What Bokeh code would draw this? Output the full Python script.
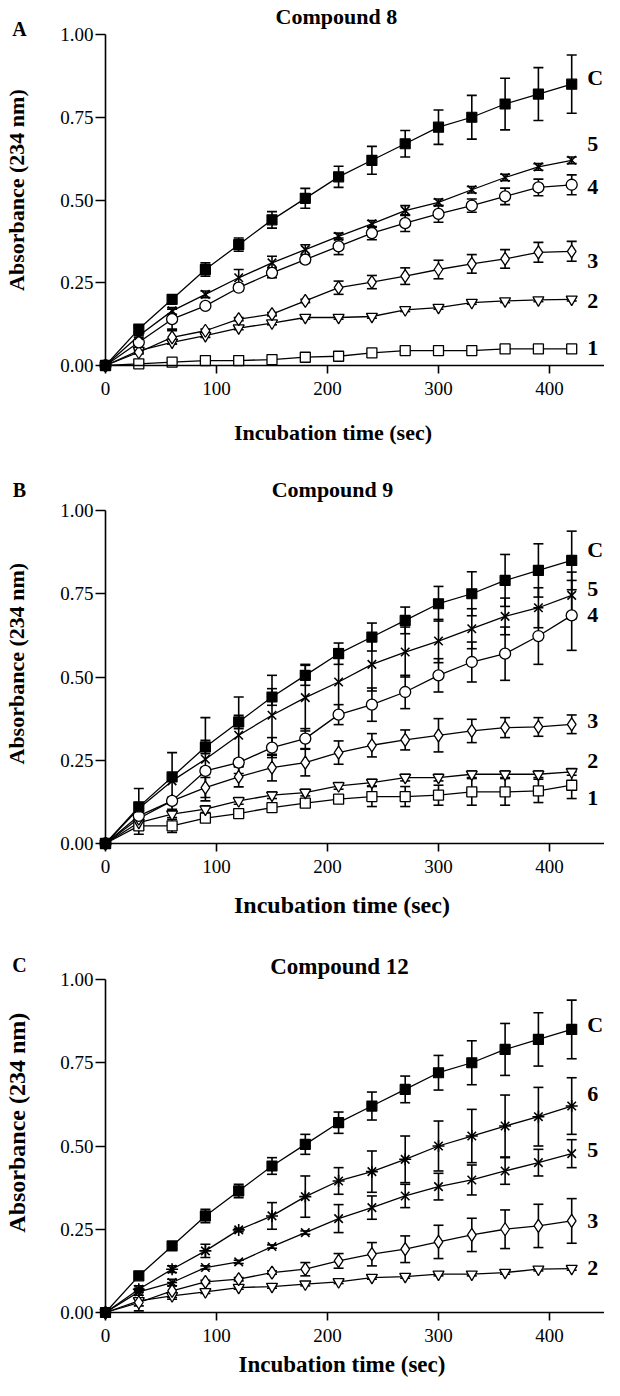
from bokeh.plotting import figure
from bokeh.layouts import column
from bokeh.models import Label, Whisker, TeeHead, ColumnDataSource, FixedTicker, Range1d
from bokeh.embed import file_html
from bokeh.resources import INLINE

# ---------------- data ----------------
t = [0, 30, 60, 90, 120, 150, 180, 210, 240, 270, 300, 330, 360, 390, 420]
x_ticks = [0, 100, 200, 300, 400]
y_ticks = [0.0, 0.25, 0.5, 0.75, 1.0]
y_tick_labels = ["0.00", "0.25", "0.50", "0.75", "1.00"]

ctrl = [0, 0.11, 0.20, 0.29, 0.365, 0.44, 0.505, 0.57, 0.62, 0.67, 0.72, 0.75, 0.79, 0.82, 0.85]
ctrl_err = [0, 0.008, 0.01, 0.02, 0.02, 0.025, 0.03, 0.032, 0.042, 0.04, 0.052, 0.066, 0.078, 0.08, 0.088]

# Compound 8
a5 = [0, 0.09, 0.165, 0.215, 0.265, 0.31, 0.35, 0.39, 0.428, 0.468, 0.493, 0.531, 0.568, 0.60, 0.62]
a5_err = [0, 0.005, 0.01, 0.01, 0.025, 0.02, 0.015, 0.01, 0.01, 0.015, 0.01, 0.01, 0.01, 0.01, 0.01]
a4 = [0, 0.07, 0.14, 0.18, 0.235, 0.28, 0.32, 0.36, 0.40, 0.43, 0.458, 0.483, 0.511, 0.538, 0.546]
a4_err = [0, 0.02, 0.03, 0.005, 0.01, 0.015, 0.01, 0.025, 0.02, 0.025, 0.025, 0.02, 0.025, 0.025, 0.03]
a3 = [0, 0.04, 0.085, 0.105, 0.14, 0.155, 0.195, 0.235, 0.252, 0.27, 0.29, 0.307, 0.322, 0.342, 0.345]
a3_err = [0, 0.005, 0.02, 0.005, 0.005, 0.005, 0.005, 0.02, 0.02, 0.025, 0.028, 0.028, 0.028, 0.03, 0.03]
a2 = [0, 0.045, 0.07, 0.09, 0.113, 0.128, 0.145, 0.145, 0.148, 0.168, 0.175, 0.19, 0.195, 0.198, 0.2]
a2_err = [0, 0.005, 0.005, 0.005, 0.005, 0.005, 0.005, 0.005, 0.005, 0.005, 0.005, 0.005, 0.005, 0.005, 0.005]
a1 = [0, 0.005, 0.01, 0.015, 0.015, 0.018, 0.025, 0.028, 0.038, 0.045, 0.045, 0.045, 0.05, 0.05, 0.05]
a1_err = [0, 0.003, 0.003, 0.003, 0.003, 0.003, 0.003, 0.003, 0.003, 0.003, 0.003, 0.003, 0.003, 0.003, 0.003]

# Compound 9
b5 = [0, 0.105, 0.188, 0.253, 0.325, 0.385, 0.438, 0.485, 0.538, 0.575, 0.608, 0.645, 0.682, 0.708, 0.745]
b5_err = [0, 0.06, 0.085, 0.125, 0.115, 0.12, 0.1, 0.1, 0.08, 0.075, 0.065, 0.06, 0.055, 0.06, 0.07]
b4 = [0, 0.083, 0.128, 0.218, 0.243, 0.288, 0.315, 0.387, 0.417, 0.455, 0.505, 0.545, 0.57, 0.623, 0.685]
b4_err = [0, 0.03, 0.01, 0.01, 0.01, 0.03, 0.03, 0.03, 0.05, 0.05, 0.05, 0.06, 0.08, 0.085, 0.105]
b3 = [0, 0.075, 0.128, 0.168, 0.2, 0.228, 0.243, 0.273, 0.295, 0.311, 0.325, 0.338, 0.348, 0.35, 0.358]
b3_err = [0, 0.01, 0.01, 0.03, 0.03, 0.04, 0.04, 0.035, 0.035, 0.03, 0.05, 0.035, 0.03, 0.028, 0.028]
b2 = [0, 0.063, 0.088, 0.103, 0.128, 0.145, 0.153, 0.173, 0.183, 0.198, 0.198, 0.208, 0.208, 0.208, 0.215]
b2_err = [0, 0.01, 0.01, 0.01, 0.01, 0.01, 0.01, 0.01, 0.01, 0.01, 0.01, 0.01, 0.01, 0.01, 0.01]
b1 = [0, 0.053, 0.053, 0.076, 0.09, 0.108, 0.121, 0.133, 0.141, 0.141, 0.145, 0.155, 0.155, 0.158, 0.175]
b1_err = [0, 0.025, 0.02, 0.01, 0.01, 0.01, 0.01, 0.01, 0.03, 0.03, 0.03, 0.04, 0.04, 0.035, 0.04]

# Compound 12
c6 = [0, 0.07, 0.13, 0.185, 0.248, 0.29, 0.348, 0.395, 0.423, 0.46, 0.5, 0.53, 0.56, 0.588, 0.62]
c6_err = [0, 0.01, 0.01, 0.02, 0.005, 0.04, 0.062, 0.04, 0.062, 0.07, 0.075, 0.08, 0.093, 0.088, 0.085]
c5 = [0, 0.062, 0.09, 0.135, 0.152, 0.198, 0.24, 0.282, 0.315, 0.35, 0.378, 0.398, 0.425, 0.45, 0.477]
c5_err = [0, 0.01, 0.01, 0.005, 0.005, 0.005, 0.005, 0.042, 0.035, 0.035, 0.04, 0.045, 0.04, 0.04, 0.042]
c3 = [0, 0.03, 0.065, 0.092, 0.1, 0.12, 0.13, 0.155, 0.175, 0.19, 0.212, 0.233, 0.25, 0.26, 0.275]
c3_err = [0, 0.01, 0.025, 0.005, 0.005, 0.005, 0.02, 0.022, 0.035, 0.04, 0.05, 0.05, 0.058, 0.065, 0.067]
c2 = [0, 0.035, 0.05, 0.062, 0.075, 0.078, 0.085, 0.092, 0.105, 0.108, 0.115, 0.115, 0.12, 0.13, 0.132]
c2_err = [0, 0.03, 0.005, 0.005, 0.005, 0.005, 0.005, 0.005, 0.005, 0.005, 0.005, 0.005, 0.005, 0.005, 0.005]

FONT = "Liberation Serif"

MARKERS = {
    "C": dict(marker="square", size=10, fill_color="black", line_width=1.2),
    "6": dict(marker="asterisk", size=12, fill_color=None, line_width=1.6),
    "5": dict(marker="x", size=12, fill_color=None, line_width=1.6),
    "4": dict(marker="circle", size=11, fill_color="white", line_width=1.3),
    "3": dict(marker="diamond", size=13, fill_color="white", line_width=1.3),
    "2": dict(marker="inverted_triangle", size=11, fill_color="white", line_width=1.3),
    "1": dict(marker="square", size=10, fill_color="white", line_width=1.3),
}

W = 604            # figure width (px); the frame fills the whole canvas
X0_PX = 105        # x=0 position inside canvas (px)
X_PX_PER_UNIT = 1.11


def add_text(p, x, y, text, size, bold=True, align="center", angle=0.0):
    p.add_layout(Label(x=x, y=y, text=text, text_font=FONT,
                       text_font_style="bold" if bold else "normal",
                       text_font_size=size, text_align=align, text_baseline="middle",
                       text_color="black", angle=angle))


def make_panel(height, y0_px, y_px_per_unit, letter, letter_y, title, title_x, title_y, title_size,
               series, label_ys, ylab_y, ylab_size, xlab_x, xlab_y, xlab_size):
    # y0_px: pixel (from canvas top) of data y=0
    x_start = -X0_PX / X_PX_PER_UNIT
    x_end = (W - X0_PX) / X_PX_PER_UNIT
    y_end = y0_px / y_px_per_unit
    y_start = -(height - y0_px) / y_px_per_unit
    p = figure(width=W, height=height, x_range=Range1d(x_start, x_end),
               y_range=Range1d(y_start, y_end),
               output_backend="svg", toolbar_location=None, title=None,
               min_border_left=0, min_border_right=0, min_border_top=0, min_border_bottom=0)
    p.outline_line_color = None
    p.grid.visible = False
    p.background_fill_color = "white"

    p.xaxis.fixed_location = 0
    p.yaxis.fixed_location = 0
    p.xaxis.bounds = (0, 450)
    p.yaxis.bounds = (0, 1)
    p.xaxis.ticker = FixedTicker(ticks=x_ticks)
    p.yaxis.ticker = FixedTicker(ticks=y_ticks)
    p.yaxis.major_label_overrides = {v: s for v, s in zip(y_ticks, y_tick_labels)}
    for ax in (p.xaxis[0], p.yaxis[0]):
        ax.axis_line_width = 1.6
        ax.axis_line_color = "black"
        ax.major_tick_line_width = 1.6
        ax.major_tick_line_color = "black"
        ax.minor_tick_line_color = None
        ax.major_tick_in = 0
        ax.major_label_text_font = FONT
        ax.major_label_text_font_size = "19px"
        ax.major_label_text_color = "black"
    p.xaxis.major_tick_out = 8
    p.xaxis.major_label_standoff = 8
    p.yaxis.major_tick_out = 10
    p.yaxis.major_label_standoff = 2

    # error bars
    for name, ys, err in series:
        xs = [a for a, e in zip(t, err) if e > 0]
        up = [y + e for y, e in zip(ys, err) if e > 0]
        lo = [y - e for y, e in zip(ys, err) if e > 0]
        src = ColumnDataSource(dict(x=xs, upper=up, lower=lo))
        w = Whisker(source=src, base="x", upper="upper", lower="lower", dimension="height",
                    line_width=1.6, line_color="black", level="underlay",
                    upper_head=TeeHead(size=10, line_width=1.6, line_color="black"),
                    lower_head=TeeHead(size=10, line_width=1.6, line_color="black"))
        p.add_layout(w)
    # lines
    for name, ys, err in series:
        p.line(t, ys, line_width=1.3, line_color="black")
    # markers
    for name, ys, err in series:
        m = MARKERS[name]
        p.scatter(t, ys, marker=m["marker"], size=m["size"], fill_color=m["fill_color"],
                  line_color="black", line_width=m["line_width"])

    # series labels on the right
    for (name, ys, err), ly in zip(series, label_ys):
        add_text(p, 434, ly, name, "22px", align="left")
    # title, panel letter, axis titles
    add_text(p, title_x, title_y, title, title_size)
    add_text(p, -77.5, letter_y, letter, "20px")
    add_text(p, -80, ylab_y, "Absorbance (234 nm)", ylab_size, angle=1.5707963)
    add_text(p, xlab_x, xlab_y, "Incubation time (sec)", xlab_size)
    return p


# series drawn in order (open markers first, control last so it sits on top)
series_a = [("1", a1, a1_err), ("2", a2, a2_err), ("3", a3, a3_err), ("4", a4, a4_err),
            ("5", a5, a5_err), ("C", ctrl, ctrl_err)]
series_b = [("1", b1, b1_err), ("2", b2, b2_err), ("3", b3, b3_err), ("4", b4, b4_err),
            ("5", b5, b5_err), ("C", ctrl, ctrl_err)]
series_c = [("2", c2, c2_err), ("3", c3, c3_err), ("5", c5, c5_err), ("6", c6, c6_err),
            ("C", ctrl, ctrl_err)]

pA = make_panel(476, 365, 331, "A", 1.016, "Compound 8", 208, 1.054, "22px", series_a,
                [0.054, 0.196, 0.317, 0.538, 0.668, 0.870],
                0.53, "22px", 205, -0.202, "22px")
pB = make_panel(469, 367, 333, "B", 1.063, "Compound 9", 204.5, 1.063, "22px", series_b,
                [0.138, 0.249, 0.369, 0.685, 0.763, 0.883],
                0.54, "22px", 213, -0.186, "24px")
pC = make_panel(435, 367, 333, "C", 1.045, "Compound 12", 210.8, 1.039, "23px", series_c,
                [0.135, 0.276, 0.487, 0.655, 0.865],
                0.57, "24px", 213, -0.155, "23px")

layout = column(pA, pB, pC, spacing=0)
open("out.html", "w").write(file_html(layout, INLINE))
